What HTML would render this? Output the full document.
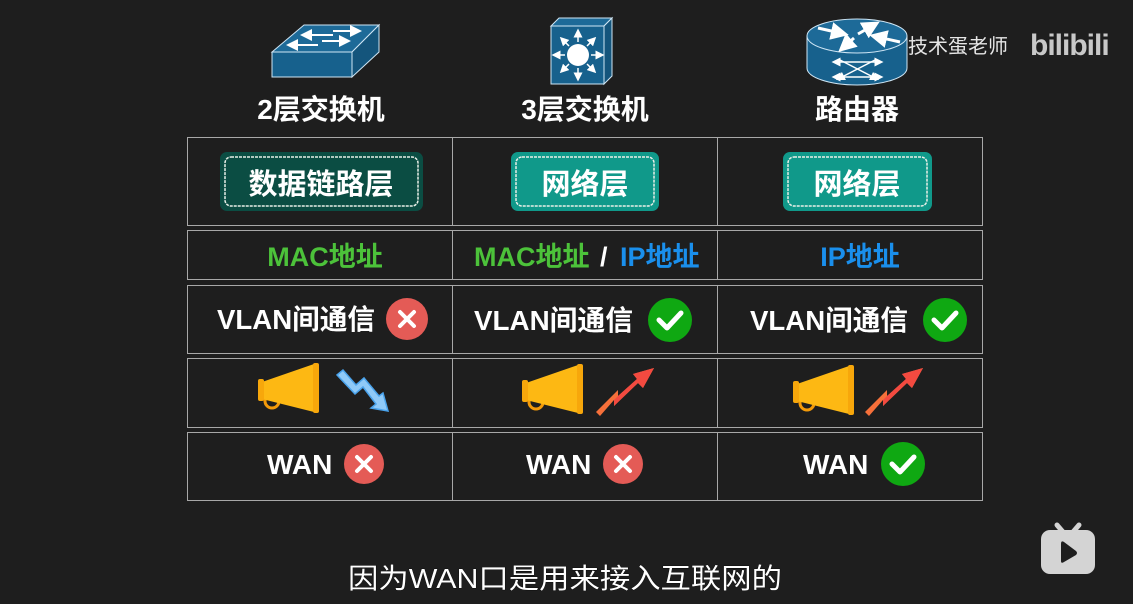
<!DOCTYPE html>
<html><head><meta charset="utf-8"><style>
html,body{margin:0;padding:0;background:#1e1e1e;}
svg{display:block;}
text{font-family:"Liberation Sans","Noto Sans CJK SC",sans-serif;}
</style></head><body>
<svg width="1133" height="604" viewBox="0 0 1133 604" xmlns="http://www.w3.org/2000/svg">
<defs>
<marker id="ah" markerWidth="6" markerHeight="6" refX="3" refY="3" orient="auto"><path d="M0,0 L6,3 L0,6 z" fill="#fff"/></marker>
</defs>
<rect width="1133" height="604" fill="#1e1e1e"/>

<!-- L2 switch -->
<g stroke="#cfe6f5" stroke-width="1">
<polygon points="272,52 304,25 379,25 352,52" fill="#1d6a98"/>
<polygon points="272,52 352,52 352,77 272,77" fill="#17618d"/>
<polygon points="352,52 379,25 379,52 352,77" fill="#14557c"/>
</g>
<g stroke="#fff" stroke-width="2" marker-end="url(#ah)">
<line x1="333" y1="35" x2="306" y2="35"/>
<line x1="333" y1="31" x2="356" y2="31" />
<line x1="318" y1="45" x2="292" y2="45"/>
<line x1="322" y1="41" x2="345" y2="41"/>
</g>

<!-- L3 switch -->
<g stroke="#cfe6f5" stroke-width="1">
<polygon points="551,26 559,18 612,18 604,26" fill="#1d6a98"/>
<polygon points="604,26 612,18 612,76 604,84" fill="#14557c"/>
<rect x="551" y="26" width="53" height="58" fill="#17618d"/>
</g>
<circle cx="578" cy="55" r="11" fill="#fff"/>
<g stroke="#fff" stroke-width="1.5" marker-end="url(#ah)">
<line x1="578" y1="42" x2="578" y2="33"/><line x1="578" y1="68" x2="578" y2="77"/>
<line x1="565" y1="55" x2="556" y2="55"/><line x1="591" y1="55" x2="600" y2="55"/>
<line x1="569" y1="46" x2="563" y2="40"/><line x1="587" y1="46" x2="593" y2="40"/>
<line x1="569" y1="64" x2="563" y2="70"/><line x1="587" y1="64" x2="593" y2="70"/>
</g>

<!-- Router -->
<g stroke="#cfe6f5" stroke-width="1">
<path d="M807,36 L807,68 A50,17 0 0 0 907,68 L907,36 Z" fill="#17618d"/>
<ellipse cx="857" cy="36" rx="50" ry="17" fill="#1d6a98"/>
</g>
<g stroke="#fff" stroke-width="3" marker-end="url(#ah)">
<line x1="818" y1="28" x2="840" y2="33"/>
<line x1="858" y1="34" x2="872" y2="26"/>
<line x1="900" y1="42" x2="878" y2="37"/>
<line x1="854" y1="38" x2="845" y2="46"/>
</g>
<g stroke="#fff" stroke-width="1.5" marker-end="url(#ah)">
<line x1="840" y1="60" x2="875" y2="78"/>
<line x1="875" y1="60" x2="840" y2="78"/>
<line x1="857" y1="62" x2="836" y2="62"/><line x1="857" y1="62" x2="879" y2="62"/>
<line x1="857" y1="77" x2="836" y2="77"/><line x1="857" y1="77" x2="879" y2="77"/>
</g>

<!-- headers -->
<g fill="#fff" font-weight="bold" font-size="28" text-anchor="middle">
<text x="321" y="119">2层交换机</text>
<text x="585" y="119">3层交换机</text>
<text x="857" y="119">路由器</text>
</g>

<!-- watermark -->
<text x="908" y="53" fill="#e6e6e6" font-size="20">技术蛋老师</text>
<text x="1030" y="55" fill="#c8c8c8" font-size="30" font-weight="bold" letter-spacing="-1">bilibili</text>

<!-- table -->
<g fill="none" stroke="#a8a8a8" stroke-width="1">
<rect x="187.5" y="137.5" width="795" height="88"/>
<rect x="187.5" y="230.5" width="795" height="49"/>
<rect x="187.5" y="285.5" width="795" height="68"/>
<rect x="187.5" y="358.5" width="795" height="69"/>
<rect x="187.5" y="432.5" width="795" height="68"/>
<line x1="452.5" y1="137" x2="452.5" y2="225"/><line x1="717.5" y1="137" x2="717.5" y2="225"/>
<line x1="452.5" y1="230" x2="452.5" y2="279"/><line x1="717.5" y1="230" x2="717.5" y2="279"/>
<line x1="452.5" y1="285" x2="452.5" y2="353"/><line x1="717.5" y1="285" x2="717.5" y2="353"/>
<line x1="452.5" y1="358" x2="452.5" y2="427"/><line x1="717.5" y1="358" x2="717.5" y2="427"/>
<line x1="452.5" y1="432" x2="452.5" y2="500"/><line x1="717.5" y1="432" x2="717.5" y2="500"/>
</g>

<!-- layer badges -->
<rect x="220" y="152" width="203" height="59" rx="7" fill="#0b4d43"/>
<rect x="225" y="157" width="193" height="49" rx="6" fill="none" stroke="#e8efe8" stroke-width="1.5" stroke-dasharray="3,1"/>
<text x="321" y="194" fill="#fff" font-size="29" font-weight="bold" text-anchor="middle">数据链路层</text>
<rect x="511" y="152" width="148" height="59" rx="7" fill="#10998a"/>
<rect x="516" y="157" width="138" height="49" rx="6" fill="none" stroke="#e8efe8" stroke-width="1.5" stroke-dasharray="3,1"/>
<text x="585" y="194" fill="#fff" font-size="29" font-weight="bold" text-anchor="middle">网络层</text>
<rect x="783" y="152" width="149" height="59" rx="7" fill="#10998a"/>
<rect x="788" y="157" width="139" height="49" rx="6" fill="none" stroke="#e8efe8" stroke-width="1.5" stroke-dasharray="3,1"/>
<text x="857" y="194" fill="#fff" font-size="29" font-weight="bold" text-anchor="middle">网络层</text>

<!-- address row -->
<g font-size="27" font-weight="bold">
<text x="325" y="266" fill="#4cc23a" text-anchor="middle">MAC地址</text>
<text x="474" y="266" fill="#4cc23a">MAC地址</text>
<text x="600" y="266" fill="#fff">/</text>
<text x="620" y="266" fill="#1a8fec">IP地址</text>
<text x="860" y="266" fill="#1a8fec" text-anchor="middle">IP地址</text>
</g>

<!-- VLAN row -->
<g font-size="28" font-weight="bold" fill="#fff">
<text x="217" y="329" textLength="158" lengthAdjust="spacingAndGlyphs">VLAN间通信</text>
<text x="474" y="330" textLength="159" lengthAdjust="spacingAndGlyphs">VLAN间通信</text>
<text x="750" y="330" textLength="158" lengthAdjust="spacingAndGlyphs">VLAN间通信</text>
<text x="267" y="474">WAN</text>
<text x="526" y="474">WAN</text>
<text x="803" y="474">WAN</text>
</g>

<!-- x icons -->
<g>
<circle cx="407" cy="319" r="21" fill="#e45b56"/>
<path d="M400,312 L414,326 M414,312 L400,326" stroke="#fff" stroke-width="4" stroke-linecap="round"/>
<circle cx="364" cy="464" r="20" fill="#e45b56"/>
<path d="M357,457 L371,471 M371,457 L357,471" stroke="#fff" stroke-width="4" stroke-linecap="round"/>
<circle cx="623" cy="464" r="20" fill="#e45b56"/>
<path d="M616,457 L630,471 M630,457 L616,471" stroke="#fff" stroke-width="4" stroke-linecap="round"/>
</g>
<!-- checks -->
<g>
<circle cx="670" cy="320" r="22" fill="#0fa812"/>
<path d="M659,320 L667,328 L681,313" fill="none" stroke="#fff" stroke-width="5" stroke-linecap="round" stroke-linejoin="round"/>
<circle cx="945" cy="320" r="22" fill="#0fa812"/>
<path d="M934,320 L942,328 L956,313" fill="none" stroke="#fff" stroke-width="5" stroke-linecap="round" stroke-linejoin="round"/>
<circle cx="903" cy="464" r="22" fill="#0fa812"/>
<path d="M892,464 L900,472 L914,457" fill="none" stroke="#fff" stroke-width="5" stroke-linecap="round" stroke-linejoin="round"/>
</g>

<!-- megaphones -->
<g id="mp">
<circle cx="272" cy="401" r="7" fill="none" stroke="#f39a0a" stroke-width="3"/>
<polygon points="262,382 314,364 314,412 262,399" fill="#fdb813"/>
<rect x="258" y="379" width="6" height="22" rx="2" fill="#f7a70b"/>
<rect x="313" y="363" width="6" height="50" rx="2" fill="#f7a70b"/>
</g>
<use href="#mp" x="264" y="1"/>
<use href="#mp" x="535" y="2"/>

<!-- down arrow -->
<path d="M337,375 L343,370 L356,385 L364,378 L379,396 L383,393 L388,411 L371,408 L376,404 L363,387 L355,394 Z" fill="#8fcaf8" stroke="#4aa3ec" stroke-width="1.5"/>
<!-- up arrows -->
<g>
<path d="M596,412 L600,416 L614,400 L614,406 L638,383 L643,388 L654,368 L633,374 L637,379 L618,396 L618,390 Z" fill="#f6703a"/>
<path d="M614,400 L614,406 L638,383 L643,388 L654,368 L633,374 L637,379 L618,396 Z" fill="#f34a40"/>
<path d="M865,412 L869,416 L883,400 L883,406 L907,383 L912,388 L923,368 L902,374 L906,379 L887,396 L887,390 Z" fill="#f6703a"/>
<path d="M883,400 L883,406 L907,383 L912,388 L923,368 L902,374 L906,379 L887,396 Z" fill="#f34a40"/>
</g>

<!-- subtitle -->
<text x="565" y="588" fill="#fff" font-size="28" text-anchor="middle" stroke="#000" stroke-width="0.6" paint-order="stroke" textLength="434" lengthAdjust="spacingAndGlyphs">因为WAN口是用来接入互联网的</text>

<!-- tv icon -->
<line x1="1057" y1="525" x2="1063" y2="532" stroke="#d4d4d4" stroke-width="5" stroke-linecap="round"/>
<line x1="1079" y1="525" x2="1073" y2="532" stroke="#d4d4d4" stroke-width="5" stroke-linecap="round"/>
<rect x="1041" y="530" width="54" height="44" rx="9" fill="#d4d4d4"/>
<path d="M1061,544 L1061,561 Q1061,564 1064,562 L1076,555 Q1078,553 1076,551 L1064,542 Q1061,540 1061,544 Z" fill="#1e1e1e"/>
</svg>
</body></html>
